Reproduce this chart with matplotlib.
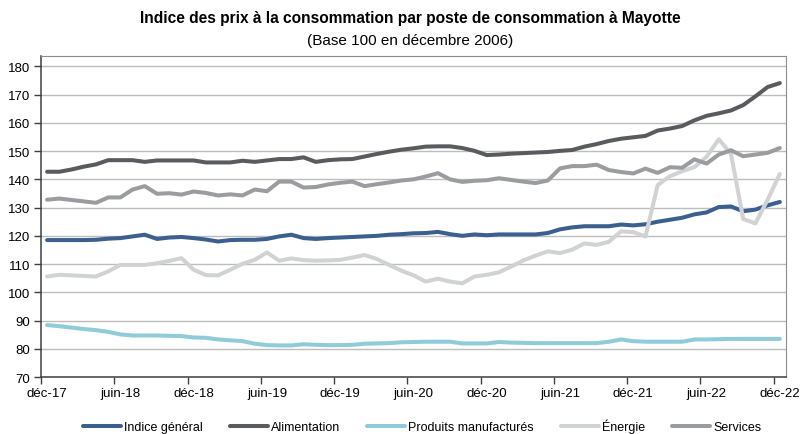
import matplotlib
matplotlib.use('Agg')
import matplotlib.pyplot as plt

plt.rcParams['font.family'] = ['Liberation Sans', 'DejaVu Sans']

# mois de déc-17 à déc-22 (61 points)
mois = ['déc-17', 'janv-18', 'févr-18', 'mars-18', 'avr-18', 'mai-18', 'juin-18', 'juil-18', 'août-18', 'sept-18', 'oct-18', 'nov-18',
        'déc-18', 'janv-19', 'févr-19', 'mars-19', 'avr-19', 'mai-19', 'juin-19', 'juil-19', 'août-19', 'sept-19', 'oct-19', 'nov-19',
        'déc-19', 'janv-20', 'févr-20', 'mars-20', 'avr-20', 'mai-20', 'juin-20', 'juil-20', 'août-20', 'sept-20', 'oct-20', 'nov-20',
        'déc-20', 'janv-21', 'févr-21', 'mars-21', 'avr-21', 'mai-21', 'juin-21', 'juil-21', 'août-21', 'sept-21', 'oct-21', 'nov-21',
        'déc-21', 'janv-22', 'févr-22', 'mars-22', 'avr-22', 'mai-22', 'juin-22', 'juil-22', 'août-22', 'sept-22', 'oct-22', 'nov-22',
        'déc-22']

indice_general = [118.5, 118.5, 118.5, 118.5, 118.6, 119.0, 119.2, 119.8, 120.4, 118.9,
                  119.4, 119.6, 119.2, 118.7, 118.0, 118.5, 118.6, 118.6, 118.9, 119.8,
                  120.4, 119.2, 118.9, 119.2, 119.4, 119.6, 119.8, 120.0, 120.4, 120.6,
                  120.9, 121.0, 121.4, 120.6, 120.0, 120.5, 120.2, 120.5, 120.5, 120.5,
                  120.5, 121.0, 122.3, 123.0, 123.4, 123.4, 123.4, 124.0, 123.7, 124.1,
                  125.0, 125.7, 126.4, 127.6, 128.3, 130.2, 130.4, 128.7, 129.3, 130.8,
                  132.0]

alimentation = [142.7, 142.7, 143.5, 144.5, 145.3, 146.8, 146.8, 146.8, 146.2, 146.7,
                146.7, 146.7, 146.7, 146.0, 146.0, 146.0, 146.6, 146.2, 146.7, 147.2,
                147.2, 147.8, 146.2, 146.8, 147.1, 147.2, 148.1, 149.0, 149.8, 150.5,
                151.0, 151.6, 151.7, 151.7, 151.1, 150.1, 148.6, 148.8, 149.1, 149.3,
                149.5, 149.7, 150.1, 150.4, 151.6, 152.5, 153.6, 154.4, 154.9, 155.4,
                157.3, 158.0, 158.9, 160.9, 162.5, 163.4, 164.4, 166.3, 169.4, 172.7,
                174.1]

produits_manufactures = [88.4, 88.0, 87.5, 87.0, 86.6, 86.0, 85.1, 84.7, 84.7, 84.7,
                         84.6, 84.5, 84.0, 83.9, 83.3, 83.0, 82.7, 81.8, 81.3, 81.2,
                         81.2, 81.6, 81.4, 81.3, 81.3, 81.4, 81.8, 81.9, 82.0, 82.3,
                         82.4, 82.5, 82.5, 82.5, 81.9, 81.9, 81.9, 82.4, 82.2, 82.1,
                         82.0, 82.0, 82.0, 82.0, 82.0, 82.0, 82.5, 83.3, 82.7, 82.5,
                         82.5, 82.5, 82.5, 83.3, 83.3, 83.4, 83.5, 83.5, 83.5, 83.5,
                         83.5]

energie = [105.6, 106.2, 106.0, 105.8, 105.6, 107.4, 109.7, 109.7, 109.7, 110.3,
           111.1, 112.1, 108.0, 106.1, 106.0, 108.0, 110.1, 111.5, 114.1, 111.2,
           112.0, 111.4, 111.2, 111.3, 111.5, 112.3, 113.2, 111.8, 109.7, 107.7,
           106.0, 103.8, 104.8, 103.8, 103.2, 105.6, 106.2, 107.1, 109.1, 111.3,
           113.0, 114.5, 113.9, 115.1, 117.3, 116.8, 117.9, 121.6, 121.3, 119.8,
           138.0, 141.1, 142.9, 144.3, 148.0, 154.2, 149.0, 126.0, 124.4, 132.8,
           141.9]

services = [132.8, 133.2, 132.7, 132.2, 131.7, 133.6, 133.6, 136.4, 137.6, 134.9,
            135.1, 134.6, 135.7, 135.2, 134.3, 134.7, 134.3, 136.4, 135.8, 139.2,
            139.2, 137.1, 137.3, 138.2, 138.8, 139.2, 137.6, 138.3, 138.9, 139.6,
            140.0, 141.0, 142.2, 140.0, 139.1, 139.5, 139.7, 140.4, 139.8, 139.2,
            138.7, 139.6, 143.9, 144.7, 144.7, 145.2, 143.3, 142.6, 142.1, 143.8,
            142.3, 144.3, 144.1, 147.1, 145.6, 148.8, 150.3, 148.2, 148.8, 149.4,
            151.1]

series = [
    ('Indice général', indice_general, '#3b5f8e'),
    ('Alimentation', alimentation, '#5a5b5f'),
    ('Produits manufacturés', produits_manufactures, '#90cbd9'),
    ('Énergie', energie, '#d0d2d4'),
    ('Services', services, '#9b9ca0'),
]

x = list(range(len(mois)))

fig = plt.figure(figsize=(8.01, 4.35), dpi=100)
ax = fig.add_axes([0.0512, 0.131, 0.930, 0.738])

for nom, valeurs, couleur in series:
    ax.plot(x, valeurs, color=couleur, linewidth=2.9, label=nom, solid_capstyle='round')

ax.set_ylim(70, 183.7)
ax.set_yticks(range(70, 181, 10))
ax.set_xlim(-0.5, 60.5)

# graduations entre les catégories, libellés sur les points
ax.set_xticks([i - 0.5 for i in range(0, 61, 6)])
ax.set_xticklabels([])
ax.set_xticks(range(0, 61, 6), minor=True)
ax.set_xticklabels([mois[i] for i in range(0, 61, 6)], minor=True, fontsize=9.5)
ax.tick_params(axis='x', which='major', length=5, width=1, color='#404040')
ax.tick_params(axis='x', which='minor', length=0, pad=7)
ax.tick_params(axis='y', length=5, width=1, color='#404040', labelsize=9.5, pad=3)

ax.grid(axis='y', color='#bdbdbd', linewidth=1)
ax.set_axisbelow(True)

for side in ['top', 'right']:
    ax.spines[side].set_color('#8c8c8c')
for side in ['left', 'bottom']:
    ax.spines[side].set_color('#404040')
    ax.spines[side].set_linewidth(1.1)

fig.text(0.512, 0.958, 'Indice des prix à la consommation par poste de consommation à Mayotte',
         ha='center', va='center', fontsize=11.2, fontweight='bold')
fig.text(0.512, 0.905, '(Base 100 en décembre 2006)', ha='center', va='center', fontsize=11)

fig.legend(loc='center', bbox_to_anchor=(0.527, 0.018), ncol=5, frameon=False,
           fontsize=9, handlelength=3.0, handletextpad=0.25, columnspacing=2.2)

fig.savefig('out.png', dpi=100)
